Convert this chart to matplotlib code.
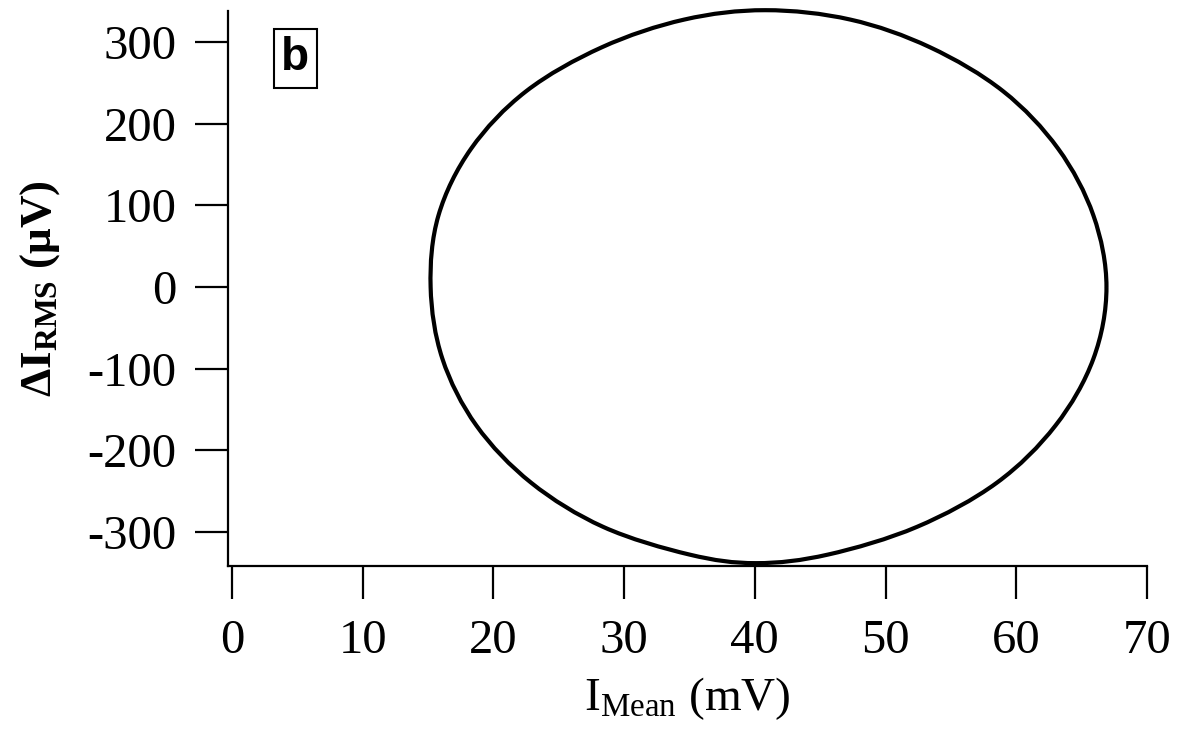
import numpy as np
import matplotlib
matplotlib.use("Agg")
import matplotlib.pyplot as plt
from matplotlib.path import Path
from matplotlib.patches import PathPatch

# Closed loop, going counter-clockwise from the right-most point
imean_mV = [66.9, 65.9, 63.2, 59.0, 53.4, 47.3, 40.8, 34.6, 28.3, 22.5, 18.3, 15.8,
            15.2, 16.1, 18.7, 22.9, 28.4, 35.0, 40.1, 45.6, 52.4, 58.5, 63.0, 65.9]
drms_uV = [0, 87.7, 169.5, 239.7, 293.6, 327.5, 339, 327.5, 293.6, 239.7, 169.5, 87.7,
           0, -87.7, -169.5, -239.7, -293.6, -327.5, -338, -327.5, -293.6, -239.7, -169.5, -87.7]

xticks = [0, 10, 20, 30, 40, 50, 60, 70]
yticks = [-300, -200, -100, 0, 100, 200, 300]
xlabel = r"$\mathregular{I_{Mean}}$ (mV)"
ylabel = r"$\mathbf{\Delta I_{RMS}}$ ($\mathbf{\mu}$V)"
panel_label = "b"

plt.rcParams['mathtext.fontset'] = 'custom'
plt.rcParams['mathtext.rm'] = 'Liberation Serif'
plt.rcParams['mathtext.it'] = 'Liberation Serif:italic'
plt.rcParams['mathtext.bf'] = 'Liberation Serif:bold'

fig = plt.figure(figsize=(11.81, 7.29), dpi=100)
ax = fig.add_axes([228/1181, 1-566/729, (1147-228)/1181, (566-11)/729])

# closed smooth curve through the read points (Catmull-Rom -> Bezier)
P = np.column_stack([imean_mV, drms_uV]).astype(float)
n = len(P)
verts = [P[0]]
codes = [Path.MOVETO]
for i in range(n):
    p0, p1, p2, p3 = P[(i-1) % n], P[i], P[(i+1) % n], P[(i+2) % n]
    c1 = p1 + (p2 - p0) / 6.0
    c2 = p2 - (p3 - p1) / 6.0
    verts += [c1, c2, p2]
    codes += [Path.CURVE4] * 3
patch = PathPatch(Path(verts, codes), fill=False, edgecolor='black',
                  linewidth=3.0, clip_on=False)
ax.add_patch(patch)

ax.set_xlim(-0.3, 69.95)
ax.set_ylim(-341.5, 338)
ax.set_xticks(xticks)
ax.set_yticks(yticks)
ax.set_xticklabels([str(v) for v in xticks])
ax.set_yticklabels([str(v) for v in yticks])

for s in ['top', 'right']:
    ax.spines[s].set_visible(False)
for s in ['left', 'bottom']:
    ax.spines[s].set_linewidth(1.6)

ax.tick_params(axis='both', direction='out', length=24, width=1.6,
               labelsize=35, colors='black')
ax.tick_params(axis='y', pad=13)
ax.tick_params(axis='x', pad=14)
for lab in ax.get_xticklabels() + ax.get_yticklabels():
    lab.set_fontfamily('Liberation Serif')

ax.set_xlabel(xlabel, fontsize=34, fontfamily='Liberation Serif', labelpad=9)
ax.set_ylabel(ylabel, fontsize=32.5, fontfamily='Liberation Serif',
              fontweight='bold', labelpad=18)

ax.text(0.0734, 0.915, panel_label, transform=ax.transAxes, ha='center', va='center',
        fontsize=33, fontweight='bold', fontfamily='Liberation Sans',
        bbox=dict(boxstyle='square,pad=0.16', facecolor='white',
                  edgecolor='black', linewidth=1.5))

fig.savefig("out.png", dpi=100)
